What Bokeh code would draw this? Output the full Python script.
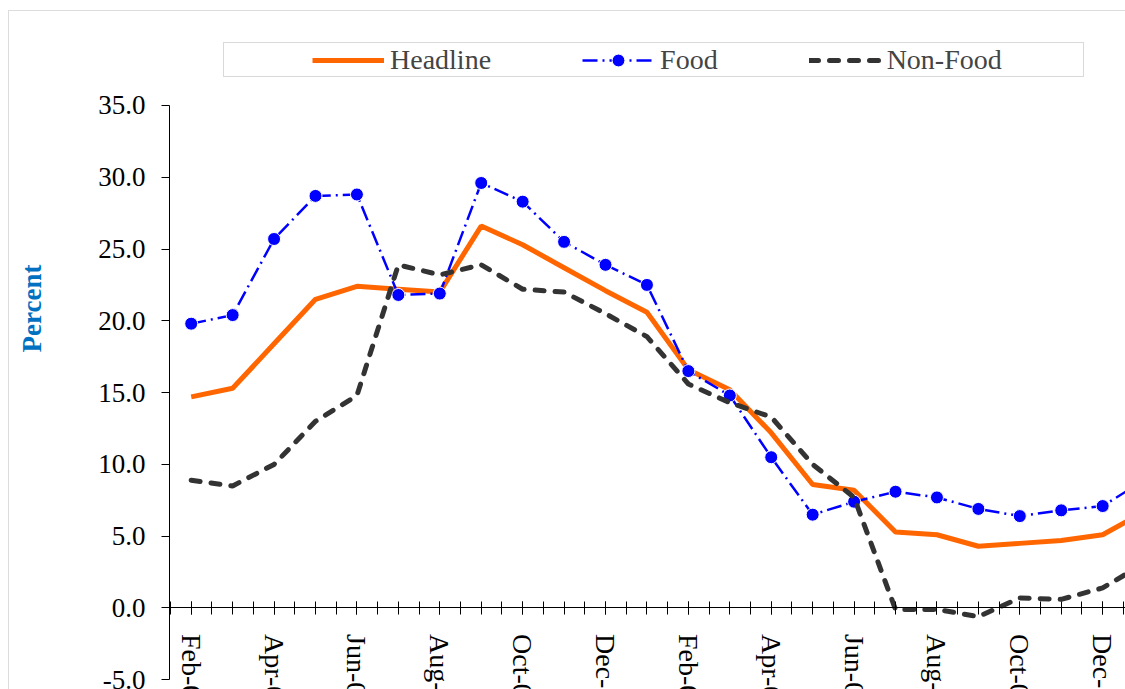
import math

from bokeh.plotting import figure
from bokeh.models import (ColumnDataSource, Range1d, FixedTicker, NumeralTickFormatter,
                          Legend, LegendItem, BoxAnnotation, Label)
from bokeh.embed import file_html
from bokeh.resources import INLINE

# Monthly year-on-year inflation, percent
months = ["Feb-08", "Mar-08", "Apr-08", "May-08", "Jun-08", "Jul-08", "Aug-08", "Sep-08",
          "Oct-08", "Nov-08", "Dec-08", "Jan-09", "Feb-09", "Mar-09", "Apr-09", "May-09",
          "Jun-09", "Jul-09", "Aug-09", "Sep-09", "Oct-09", "Nov-09", "Dec-09", "Jan-10"]
headline = [14.7, 15.3, 18.4, 21.5, 22.4, 22.2, 22.0, 26.6, 25.3, 23.7, 22.1, 20.6,
            16.6, 15.2, 12.2, 8.6, 8.2, 5.3, 5.1, 4.3, 4.5, 4.7, 5.1, 6.7]
food = [19.8, 20.4, 25.7, 28.7, 28.8, 21.8, 21.9, 29.6, 28.3, 25.5, 23.9, 22.5,
        16.5, 14.8, 10.5, 6.5, 7.4, 8.1, 7.7, 6.9, 6.4, 6.8, 7.1, 8.9]
non_food = [8.9, 8.5, 10.0, 13.0, 14.8, 23.9, 23.2, 23.9, 22.2, 22.0, 20.5, 18.9,
            15.6, 14.3, 13.3, 10.0, 7.7, -0.1, -0.1, -0.6, 0.7, 0.6, 1.4, 3.1]
y_ticks = [-5, 0, 5, 10, 15, 20, 25, 30, 35]

FONT = "Liberation Serif"
Y_AXIS_AT = -0.524  # month position where the value axis stands

idx = list(range(len(months)))
src = ColumnDataSource(dict(x=idx, headline=headline, food=food, non_food=non_food))

p = figure(width=1125, height=689, output_backend="svg", toolbar_location=None,
           x_range=Range1d(-4.603, 22.551), y_range=Range1d(-5.677, 42.31),
           min_border_left=0, min_border_right=0, min_border_top=0, min_border_bottom=0,
           background_fill_color="white", border_fill_color="white",
           outline_line_color=None)
p.grid.visible = False

# category axis crossing the value axis at zero
xa = p.xaxis[0]
xa.fixed_location = 0
xa.bounds = (Y_AXIS_AT, 30)
xa.ticker = FixedTicker(ticks=idx[::2], minor_ticks=[i * 0.5 for i in range(-1, 48)])
xa.major_label_overrides = {i: months[i] for i in idx[::2]}
xa.major_label_orientation = -math.pi / 2
xa.major_label_text_font = FONT
xa.major_label_text_font_size = "28px"
xa.major_label_text_color = "black"
xa.major_label_standoff = 19
xa.axis_line_color = "black"
xa.major_tick_in = 6
xa.major_tick_out = 7
xa.minor_tick_in = 6
xa.minor_tick_out = 7
xa.major_tick_line_color = "black"
xa.minor_tick_line_color = "black"

ya = p.yaxis[0]
ya.fixed_location = Y_AXIS_AT
ya.ticker = FixedTicker(ticks=y_ticks)
ya.formatter = NumeralTickFormatter(format="0.0")
ya.bounds = (-5, 35)
ya.major_tick_in = 0
ya.major_tick_out = 8
ya.minor_tick_line_color = None
ya.major_label_standoff = 16
ya.major_label_text_font = FONT
ya.major_label_text_font_size = "27px"
ya.major_label_text_color = "black"
ya.axis_line_color = "black"
ya.major_tick_line_color = "black"

r_head = p.line("x", "headline", source=src, line_color="#FF6600", line_width=5)
r_food = p.line("x", "food", source=src, line_color="#0000FF", line_width=2.5,
                line_dash="15 5 2 5")
r_food_pts = p.scatter("x", "food", source=src, size=13, fill_color="#0000FF",
                       line_color="white", line_width=1)
r_non = p.line("x", "non_food", source=src, line_color="#333333", line_width=5,
               line_dash="9 11", line_cap="round")

legend = Legend(items=[LegendItem(label="Headline", renderers=[r_head]),
                       LegendItem(label="Food", renderers=[r_food, r_food_pts]),
                       LegendItem(label="Non-Food", renderers=[r_non])],
                orientation="horizontal", location=(312, 613), padding=0, margin=0,
                spacing=91, glyph_width=72, glyph_height=32, label_standoff=6,
                label_text_font=FONT, label_text_font_size="28px",
                border_line_color=None, background_fill_alpha=0)
p.add_layout(legend)

# legend frame and chart-area border
p.add_layout(BoxAnnotation(left=223, right=1083, top=42, bottom=76,
                           left_units="canvas", right_units="canvas",
                           top_units="canvas", bottom_units="canvas",
                           fill_color=None, line_color="#808080", line_width=1))
p.add_layout(BoxAnnotation(left=8, right=1300, top=10, bottom=900,
                           left_units="canvas", right_units="canvas",
                           top_units="canvas", bottom_units="canvas",
                           fill_color=None, line_color="#8c8c8c", line_width=1))

p.add_layout(Label(x=31, y=308, x_units="canvas", y_units="canvas", text="Percent",
                   angle=math.pi / 2, text_align="center", text_baseline="middle",
                   text_font=FONT, text_font_style="bold", text_font_size="27px",
                   text_color="#0070C0"))

open("out.html", "w").write(file_html(p, INLINE))
